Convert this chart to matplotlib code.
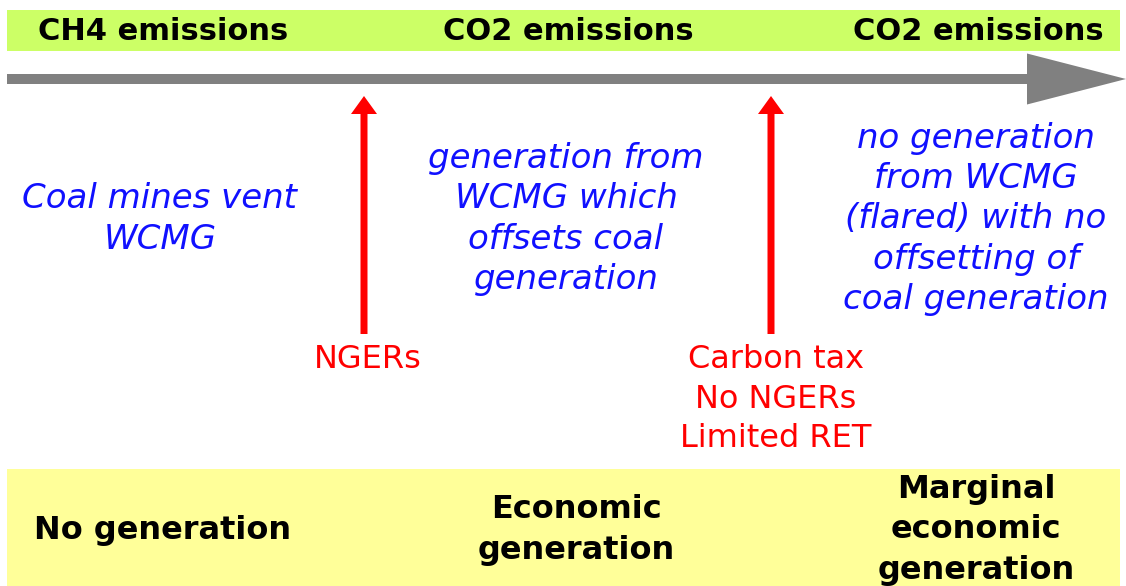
import matplotlib.pyplot as plt
from matplotlib.patches import Rectangle, FancyArrow

plt.rcParams['font.family'] = ['DejaVu Sans']

# text content of the diagram
headers = ["CH4 emissions", "CO2 emissions", "CO2 emissions"]
outcomes = ["Coal mines vent\nWCMG",
            "generation from\nWCMG which\noffsets coal\ngeneration",
            "no generation\nfrom WCMG\n(flared) with no\noffsetting of\ncoal generation"]
triggers = ["NGERs", "Carbon tax\nNo NGERs\nLimited RET"]
footers = ["No generation", "Economic\ngeneration", "Marginal\neconomic\ngeneration"]

# layout (pixel coords, y down)
W, H = 1126, 586
col_x = [160, 566, 976]
footer_x = [163, 576, 976]
trigger_x = [368, 776]
arrow_x = [364, 771]

fig = plt.figure(figsize=(W / 100, H / 100), dpi=100)
ax = fig.add_axes([0, 0, 1, 1])
ax.set_xlim(0, W)
ax.set_ylim(H, 0)
ax.axis('off')

# top green band + header labels
ax.add_patch(Rectangle((7, 10), 1113, 41, color='#ccff66', lw=0))
for x, t in zip([163, 568, 978], headers):
    ax.text(x, 32, t, ha='center', va='center', fontsize=22, fontweight='bold', color='black')

# grey timeline arrow
ax.add_patch(FancyArrow(7, 79, 1119, 0, width=10, head_width=51, head_length=99,
                        length_includes_head=True, color='#808080', lw=0))

# blue outcome text
for x, t in zip(col_x, outcomes):
    ax.text(x, 219, t, ha='center', va='center', fontsize=24.5, style='italic',
            color='#1010ff', linespacing=1.27)

# red policy arrows + labels
for x in arrow_x:
    ax.add_patch(FancyArrow(x, 334, 0, -238, width=7, head_width=26, head_length=18,
                            length_includes_head=True, color='#ff0000', lw=0))
for x, t in zip(trigger_x, triggers):
    n = t.count('\n')
    ax.text(x, 359 + 20 * n, t, ha='center', va='center', fontsize=23, color='#ff0000',
            linespacing=1.36)

# bottom yellow band + generation labels
ax.add_patch(Rectangle((7, 469), 1113, 117, color='#ffff99', lw=0))
for x, t in zip(footer_x, footers):
    ax.text(x, 530, t, ha='center', va='center', fontsize=23, fontweight='bold',
            color='black', linespacing=1.38)

fig.savefig('out.png', dpi=100)
